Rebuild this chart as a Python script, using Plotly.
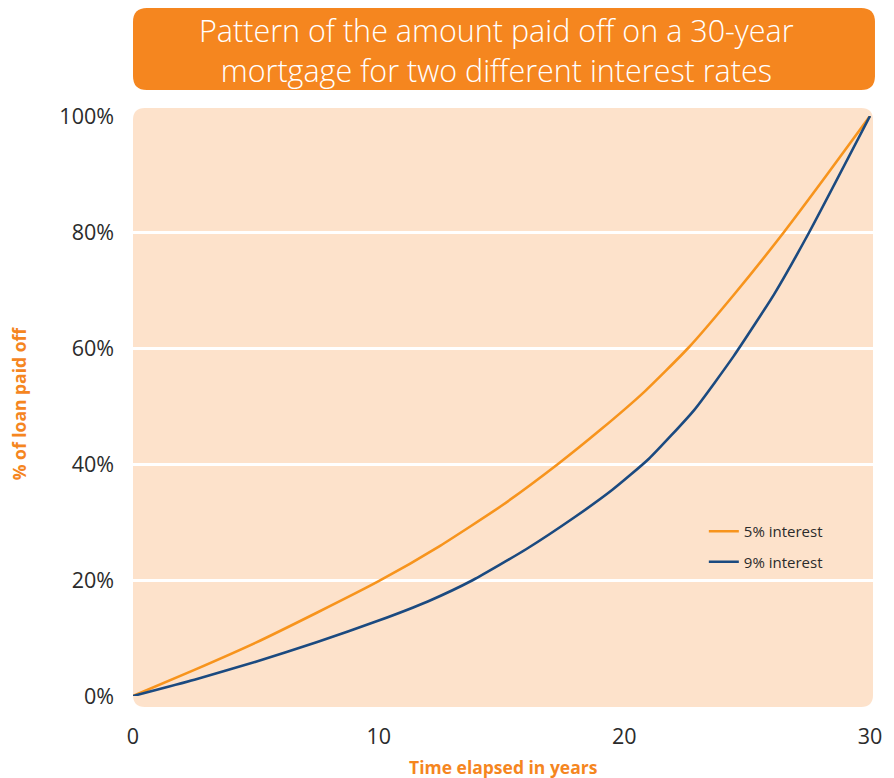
import plotly.graph_objects as go

# ---- data ----
years_5 = [0, 2.5, 5, 7.5, 10, 12.5, 15, 17.3, 19, 20.8, 22.6, 24.5, 26.5, 28.2, 30]
paid_5 = [0, 4.5, 9.2, 14.4, 19.8, 25.9, 32.8, 40.0, 45.8, 52.4, 60.0, 69.4, 80.0, 89.6, 100]

years_9 = [0, 2.5, 5, 7.5, 10, 12, 13.84, 16, 18, 19.5, 21, 22.84, 24.45, 26.1, 27.53, 30]
paid_9 = [0, 2.8, 5.9, 9.3, 13.0, 16.3, 20.0, 25.3, 30.9, 35.5, 40.9, 49.3, 58.6, 69.3, 80.0, 100]

series_names = ["5% interest", "9% interest"]
x_ticks = [0, 10, 20, 30]
y_ticks = [0, 20, 40, 60, 80, 100]
y_tick_labels = [f"{v}%" for v in y_ticks]

title_text = "Pattern of the amount paid off on a 30-year<br>mortgage for two different interest rates"
x_title = "Time elapsed in years"
y_title = "% of loan paid off"

ORANGE = "#F5861F"
LINE5 = "#F7941D"
LINE9 = "#1B4A80"
PANEL = "#FDE2CB"
TEXT = "#2b2b2b"

W, H = 894, 778
ML, MR, MT, MB = 133, 13, 116, 82
PW, PH = W - ML - MR, H - MT - MB


def px(xp):
    return (xp - ML) / PW


def py(yp):
    return (H - MB - yp) / PH


def rounded_rect(x0, y0, x1, y1, r):
    # pixel coords -> paper path with rounded corners
    rx, ry = r / PW, r / PH
    X0, X1 = px(x0), px(x1)
    Yt, Yb = py(y0), py(y1)
    return (f"M {X0+rx},{Yt} L {X1-rx},{Yt} Q {X1},{Yt} {X1},{Yt-ry} "
            f"L {X1},{Yb+ry} Q {X1},{Yb} {X1-rx},{Yb} "
            f"L {X0+rx},{Yb} Q {X0},{Yb} {X0},{Yb+ry} "
            f"L {X0},{Yt-ry} Q {X0},{Yt} {X0+rx},{Yt} Z")


fig = go.Figure()
fig.add_trace(go.Scatter(x=years_5, y=paid_5, mode="lines", name=series_names[0],
                         line=dict(color=LINE5, width=2.6, shape="spline", smoothing=0.5),
                         legendgroup="a"))
fig.add_trace(go.Scatter(x=years_9, y=paid_9, mode="lines", name=series_names[1],
                         line=dict(color=LINE9, width=2.6, shape="spline", smoothing=0.5),
                         legendgroup="b"))

fig.add_shape(type="path", xref="paper", yref="paper", layer="below",
              path=rounded_rect(133, 108, 881, 707, 12),
              fillcolor=PANEL, line=dict(width=0))
fig.add_shape(type="path", xref="paper", yref="paper", layer="below",
              path=rounded_rect(133, 8, 883, 90, 14),
              fillcolor=ORANGE, line=dict(width=0))

fig.add_annotation(text=title_text, xref="paper", yref="paper",
                   x=px(500), y=py(50), xanchor="center", yanchor="middle",
                   showarrow=False,
                   font=dict(family="Open Sans", size=30.5, color="white", weight=300))
fig.add_annotation(text=x_title, xref="paper", yref="paper",
                   x=px(508), y=py(767), xanchor="center", yanchor="middle",
                   showarrow=False,
                   font=dict(family="Open Sans", size=17.5, color=ORANGE, weight="bold"))
fig.add_annotation(text=y_title, xref="paper", yref="paper", textangle=-90,
                   x=px(18), y=py(403), xanchor="center", yanchor="middle",
                   showarrow=False,
                   font=dict(family="Open Sans", size=17.5, color=ORANGE, weight="bold"))

fig.update_layout(
    width=W, height=H,
    margin=dict(l=ML, r=MR, t=MT, b=MB),
    paper_bgcolor="white", plot_bgcolor="rgba(0,0,0,0)",
    font=dict(family="Open Sans", color=TEXT),
    showlegend=True,
    legend=dict(x=px(710), y=py(515), xanchor="left", yanchor="top",
                bgcolor="rgba(0,0,0,0)", tracegroupgap=8,
                font=dict(size=15, color=TEXT)),
)
fig.update_xaxes(range=[0, 30 * PW / (878 - ML)], tickvals=x_ticks, ticktext=[str(v) for v in x_ticks],
                 showgrid=False, zeroline=False, showline=False,
                 tickfont=dict(size=21.5, color=TEXT), ticklabelstandoff=25, fixedrange=True)
fig.update_yaxes(range=[0, 100], tickvals=y_ticks, ticktext=y_tick_labels,
                 showgrid=True, gridcolor="white", gridwidth=2.5, zeroline=False, showline=False,
                 tickfont=dict(size=21.5, color=TEXT), ticklabelstandoff=18, fixedrange=True)

fig.write_html("out.html")
